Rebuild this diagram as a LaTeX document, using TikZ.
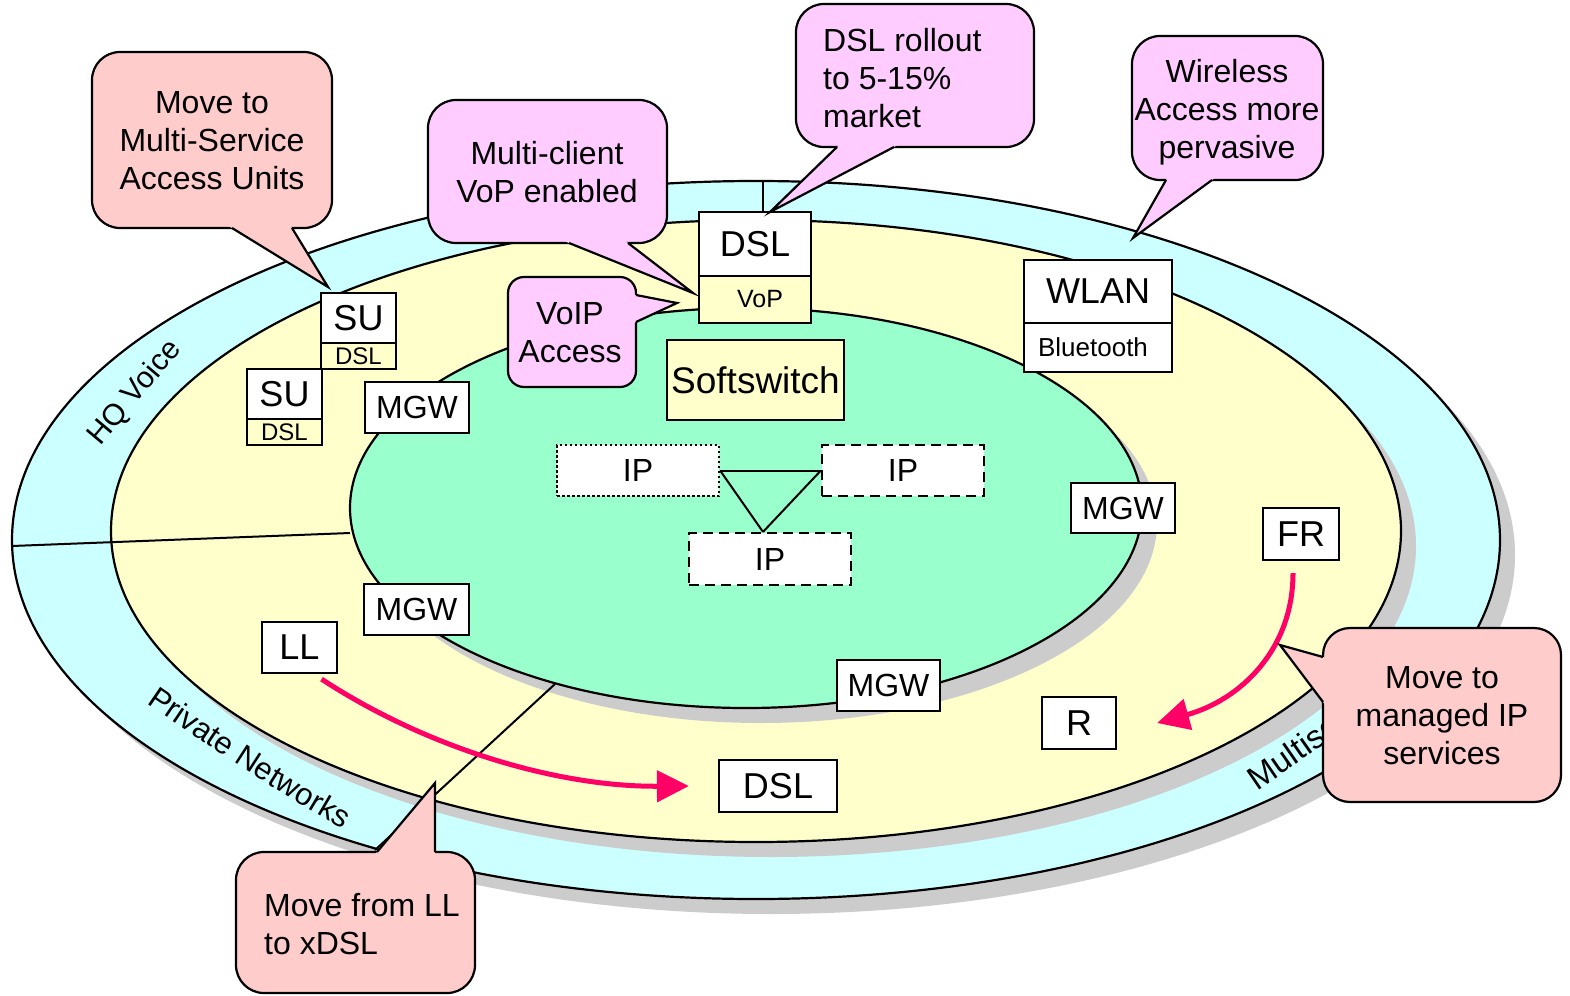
\documentclass[tikz,border=0pt]{standalone}
\usepackage{fontspec}
\setmainfont{Liberation Sans}
\usetikzlibrary{arrows.meta,decorations.text,calc}
\definecolor{ringcyan}{HTML}{CCFFFF}
\definecolor{ringyellow}{HTML}{FFFFCC}
\definecolor{ringgreen}{HTML}{99FFCC}
\definecolor{shadowgray}{HTML}{CCCCCC}
\definecolor{calloutred}{HTML}{FFCCCC}
\definecolor{calloutpink}{HTML}{FFCCFF}
\definecolor{arrowred}{HTML}{FF0066}
\begin{document}
\begin{tikzpicture}[x=1pt,y=1pt,
  ring/.style={draw=black, line width=2.2pt},
  divider/.style={draw=black, line width=2pt},
  box/.style={draw=black, fill=white, line width=2.2pt, inner sep=0pt},
  bigtext/.style={font=\fontsize{36}{40}\selectfont},
  midtext/.style={font=\fontsize{32}{36}\selectfont},
  smalltext/.style={font=\fontsize{25}{28}\selectfont},
  tinytext/.style={font=\fontsize{24}{26}\selectfont},
  ctext/.style={inner sep=0pt, align=center, font=\fontsize{32}{38}\selectfont},
  callout/.style={draw=black, line width=2.2pt, rounded corners=28pt},
  pointer/.style={draw=black, line width=2.2pt},
  redarrow/.style={draw=arrowred, line width=5pt, -{Triangle[length=32pt,width=31pt]}},
  iplink/.style={draw=black, line width=2pt}
]
\useasboundingbox (0,0) rectangle (1570,-995);

% rings with shadows
\fill[shadowgray] (771,-555) ellipse [x radius=744, y radius=359];
\draw[ring, fill=ringcyan] (756,-540) ellipse [x radius=744, y radius=359];
\fill[shadowgray] (771,-546) ellipse [x radius=645, y radius=311];
\draw[ring, fill=ringyellow] (756,-531) ellipse [x radius=645, y radius=311];
\fill[shadowgray] (761,-523) ellipse [x radius=396, y radius=200];
\draw[ring, fill=ringgreen] (746,-508) ellipse [x radius=396, y radius=200];

% sector dividers
\coordinate (l1a) at (12,-546);
\coordinate (l1b) at (350,-533);
\coordinate (l2a) at (555,-684);
\coordinate (l2b) at (375,-850);
\coordinate (l3a) at (763,-181);
\coordinate (l3b) at (763,-308);
\draw[divider] (l1a) -- (l1b);
\draw[divider] (l2a) -- (l2b);
\draw[divider] (l3a) -- (l3b);

% ring labels
\node[rotate=50, font=\fontsize{30}{34}\selectfont] (hq) at (135,-393) {HQ Voice};
\path[decorate, decoration={text along path, text align=left,
  text={|\fontsize{31}{34}\selectfont|Private Networks}}]
  (146,-703) .. controls (215,-750) and (280,-795) .. (380,-850);
\path[decorate, decoration={text along path, text align=left,
  text={|\fontsize{33}{36}\selectfont|Multiservice}}]
  (1257,-791) .. controls (1304,-759) and (1354,-724) .. (1404,-686);

% boxes
\node[box, bigtext, minimum width=75pt, minimum height=50pt] (su1) at (358.5,-318) {SU};
\node[box, tinytext, fill=ringyellow, minimum width=75pt, minimum height=26pt] (su1d) at (358.5,-356) {DSL};
\node[box, bigtext, minimum width=75pt, minimum height=50pt] (su2) at (284.5,-394) {SU};
\node[box, tinytext, fill=ringyellow, minimum width=75pt, minimum height=26pt] (su2d) at (284.5,-432) {DSL};
\node[box, midtext, minimum width=104pt, minimum height=51pt] (mgw1) at (417,-407.5) {MGW};
\node[box, midtext, minimum width=105pt, minimum height=51pt] (mgw2) at (416.5,-609.5) {MGW};
\node[box, bigtext, minimum width=75pt, minimum height=51pt] (ll) at (299.5,-647.5) {LL};
\node[box, midtext, minimum width=104pt, minimum height=50pt] (mgw3) at (1123,-508) {MGW};
\node[box, bigtext, minimum width=76pt, minimum height=52pt] (fr) at (1301,-534) {FR};
\node[box, bigtext, minimum width=74pt, minimum height=52pt] (r) at (1079,-723) {R};
\node[box, midtext, minimum width=103pt, minimum height=51pt] (mgw4) at (888.5,-685.5) {MGW};
\node[box, bigtext, minimum width=118pt, minimum height=52pt] (dslb) at (778,-786) {DSL};
\node[box, bigtext, minimum width=112pt, minimum height=64pt] (dslt) at (755,-244) {DSL};
\node[box, smalltext, fill=ringyellow, minimum width=112pt, minimum height=47pt] (vop) at (755,-299.5) {\hspace*{10pt}VoP};
\node[box, bigtext, minimum width=148pt, minimum height=63pt] (wlan) at (1098,-291.5) {WLAN};
\node[box, font=\fontsize{26}{30}\selectfont, minimum width=148pt, minimum height=49pt] (bt) at (1098,-347.5) {Bluetooth\hspace*{10pt}};
\node[box, font=\fontsize{37}{40}\selectfont, fill=ringyellow, minimum width=177pt, minimum height=80pt] (soft) at (755.5,-380) {Softswitch};
\node[box, midtext, dash pattern=on 2.5pt off 2.5pt, minimum width=162pt, minimum height=51pt] (ip1) at (638,-470.5) {IP};
\node[box, midtext, dash pattern=on 10pt off 6pt, minimum width=162pt, minimum height=51pt] (ip2) at (903,-470.5) {IP};
\node[box, midtext, dash pattern=on 10pt off 6pt, minimum width=162pt, minimum height=52pt] (ip3) at (770,-559) {IP};

% IP triangle
\draw[iplink] (ip1.east) -- (ip2.west);
\draw[iplink] (ip1.east) -- ([xshift=-7pt]ip3.north);
\draw[iplink] (ip2.west) -- ([xshift=-7pt]ip3.north);

% red arrows
\draw[redarrow] ([xshift=22pt,yshift=-5pt]ll.south) .. controls (430,-750) and (560,-787) .. ([xshift=-29pt]dslb.west);
\draw[redarrow] ([xshift=-8pt,yshift=-12pt]fr.south) .. controls (1293,-650) and (1240,-700) .. ([xshift=40pt]r.east);

% callouts
\draw[callout, fill=calloutred] (92,-52) rectangle (332,-228);
\fill[calloutred] (222.2,-222) -- (328,-287) -- (288.3,-222) -- cycle;
\draw[pointer] (232,-228) -- (328,-287) -- (292,-228);
\node[ctext] (c1t) at (212,-141) {Move to\\Multi-Service\\Access Units};

\draw[callout, fill=calloutpink] (428,-100) rectangle (667,-243);
\fill[calloutpink] (554.1,-237) -- (693,-293) -- (620.2,-237) -- cycle;
\draw[pointer] (569,-243) -- (693,-293) -- (628,-243);
\node[ctext] (c2t) at (547,-172) {Multi-client\\VoP enabled};

\draw[callout, fill=calloutpink] (796,-4) rectangle (1034,-147);
\fill[calloutpink] (843.2,-141) -- (770,-212) -- (905.4,-141) -- cycle;
\draw[pointer] (837,-147) -- (770,-212) -- (894,-147);
\node[ctext, align=left, anchor=west] (c3t) at (823,-78) {DSL rollout\\to 5-15\%\\market};

\draw[callout, fill=calloutpink] (1132,-36) rectangle (1323,-180);
\fill[calloutpink] (1169.4,-174) -- (1133,-238) -- (1220.2,-174) -- cycle;
\draw[pointer] (1166,-180) -- (1133,-238) -- (1212,-180);
\node[ctext] (c4t) at (1227,-112) {Wireless\\Access more\\pervasive};

\draw[callout, rounded corners=16pt, fill=calloutpink] (508,-277) rectangle (636,-387);
\fill[calloutpink] (630,-293.8) -- (677,-303) -- (630,-324.8) -- cycle;
\draw[pointer] (636,-295) -- (677,-303) -- (636,-322);
\node[ctext] (c5t) at (570,-333) {VoIP\\Access};

\draw[callout, rounded corners=27pt, fill=calloutred] (1323,-628) rectangle (1561,-802);
\fill[calloutred] (1329,-658.7) -- (1280,-645) -- (1329,-710) -- cycle;
\draw[pointer] (1323,-657) -- (1280,-645) -- (1323,-702);
\node[ctext] (c6t) at (1442,-716) {Move to\\managed IP\\services};

\draw[callout, fill=calloutred] (236,-852) rectangle (475,-993);
\fill[calloutred] (372,-858) -- (435,-783) -- (435,-858) -- cycle;
\draw[pointer] (377,-852) -- (435,-783) -- (435,-852);
\node[ctext, align=left, anchor=west] (c7t) at (264,-924) {Move from LL\\to xDSL};
\end{tikzpicture}
\end{document}
